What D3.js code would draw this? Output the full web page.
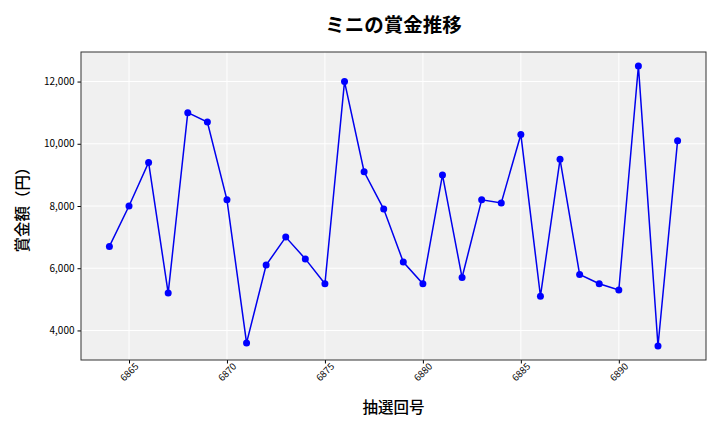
<!DOCTYPE html>
<html>
<head>
<meta charset="utf-8">
<script src="https://cdn.jsdelivr.net/npm/d3@7"></script>
<style>
  body { margin: 0; background: #fff; }
  text { font-family: "Noto Sans CJK JP", "Noto Sans", sans-serif; fill: #000; }
</style>
</head>
<body>
<svg id="chart" width="720" height="432"></svg>
<script>
const draws = [6864, 6865, 6866, 6867, 6868, 6869, 6870, 6871, 6872, 6873,
  6874, 6875, 6876, 6877, 6878, 6879, 6880, 6881, 6882, 6883,
  6884, 6885, 6886, 6887, 6888, 6889, 6890, 6891, 6892, 6893];
const prizes = [6700, 8000, 9400, 5200, 11000, 10700, 8200, 3600, 6100, 7000,
  6300, 5500, 12000, 9100, 7900, 6200, 5500, 9000, 5700, 8200,
  8100, 10300, 5100, 9500, 5800, 5500, 5300, 12500, 3500, 10100];
const xTicks = [6865, 6870, 6875, 6880, 6885, 6890];
const yTicks = [4000, 6000, 8000, 10000, 12000];

const margin = { top: 52, right: 14, bottom: 72, left: 81 };
const W = 720, H = 432;
const iw = W - margin.left - margin.right;
const ih = H - margin.top - margin.bottom;

const svg = d3.select("#chart");
const g = svg.append("g").attr("transform", `translate(${margin.left},${margin.top})`);

// matplotlib-style 5% padding
const xPad = (d3.max(draws) - d3.min(draws)) * 0.05;
const yPad = (d3.max(prizes) - d3.min(prizes)) * 0.05;
const x = d3.scaleLinear().domain([d3.min(draws) - xPad, d3.max(draws) + xPad]).range([0, iw]);
const y = d3.scaleLinear().domain([d3.min(prizes) - yPad, d3.max(prizes) + yPad]).range([ih, 0]);

g.append("rect").attr("width", iw).attr("height", ih).attr("fill", "#f0f0f0");

/* --- grid --- */
g.append("g").selectAll("line").data(xTicks).join("line")
  .attr("x1", d => x(d)).attr("x2", d => x(d))
  .attr("y1", 0).attr("y2", ih)
  .attr("stroke", "#fff").attr("stroke-width", 1);
g.append("g").selectAll("line").data(yTicks).join("line")
  .attr("y1", d => y(d)).attr("y2", d => y(d))
  .attr("x1", 0).attr("x2", iw)
  .attr("stroke", "#fff").attr("stroke-width", 1);

/* --- axes --- */
const xAxis = g.append("g").attr("transform", `translate(0,${ih})`)
  .call(d3.axisBottom(x).tickValues(xTicks).tickFormat(d3.format("d")).tickSize(3.5).tickPadding(3));
xAxis.select(".domain").remove();
xAxis.selectAll("text")
  .attr("font-size", 9.5)
  .attr("text-anchor", "end")
  .attr("dx", "0.2em").attr("dy", "0.55em")
  .attr("transform", "rotate(-45)");

const yAxis = g.append("g")
  .call(d3.axisLeft(y).tickValues(yTicks).tickFormat(d3.format(",")).tickSize(3.5).tickPadding(3));
yAxis.select(".domain").remove();
yAxis.selectAll("text").attr("font-size", 10);

g.append("rect").attr("width", iw).attr("height", ih)
  .attr("fill", "none").attr("stroke", "#333").attr("stroke-width", 1);

/* --- series --- */
const pts = draws.map((d, i) => ({ draw: d, prize: prizes[i] }));
g.append("path").datum(pts)
  .attr("fill", "none").attr("stroke", "#0000ee").attr("stroke-width", 1.5)
  .attr("d", d3.line().x(d => x(d.draw)).y(d => y(d.prize)));
g.append("g").selectAll("circle").data(pts).join("circle")
  .attr("cx", d => x(d.draw)).attr("cy", d => y(d.prize))
  .attr("r", 3.5).attr("fill", "#0000ff");

/* --- labels --- */
svg.append("text").attr("x", margin.left + iw / 2).attr("y", 32)
  .attr("text-anchor", "middle").attr("font-size", 19.5).attr("font-weight", "bold")
  .text("ミニの賞金推移");
svg.append("text").attr("x", margin.left + iw / 2).attr("y", 413)
  .attr("text-anchor", "middle").attr("font-size", 15.5).attr("font-weight", 500)
  .text("抽選回号");
svg.append("text")
  .attr("transform", `translate(28,${margin.top + ih / 2}) rotate(-90)`)
  .attr("text-anchor", "middle").attr("font-size", 15.5).attr("font-weight", 500)
  .text("賞金額（円）");
</script>
</body>
</html>
